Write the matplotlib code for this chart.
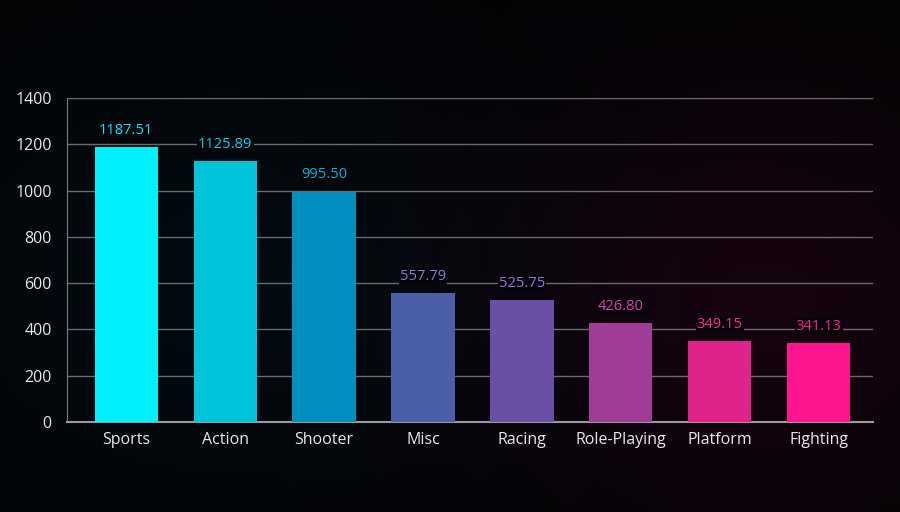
import matplotlib
matplotlib.use("Agg")
import matplotlib.pyplot as plt
import numpy as np

categories = ["Sports", "Action", "Shooter", "Misc", "Racing", "Role-Playing", "Platform", "Fighting"]
values = [1187.51, 1125.89, 995.50, 557.79, 525.75, 426.80, 349.15, 341.13]
bar_colors = ["#00f0fc", "#00c4da", "#008fbe", "#4a5fa8", "#6b4ea6", "#a03c96", "#e0238a", "#ff1590"]
label_colors = ["#00e8f8", "#00d0e6", "#00b4d8", "#7f7fe0", "#9a70e0", "#e040b0", "#ff2a98", "#ff2290"]
yticks = [0, 200, 400, 600, 800, 1000, 1200, 1400]

plt.rcParams['font.family'] = ['Open Sans', 'DejaVu Sans']

fig = plt.figure(figsize=(9, 5.12), dpi=100, facecolor="#020204")

# background gradient
bg = fig.add_axes([0, 0, 1, 1], zorder=0)
bg.set_axis_off()
h, w = 256, 450
yy, xx = np.mgrid[0:h, 0:w]
xx = xx / (w - 1)
yy = yy / (h - 1)
img = np.zeros((h, w, 3))
base = np.array([0.01, 0.012, 0.018])
blue = np.array([0.0, 0.03, 0.045])
mag = np.array([0.075, 0.0, 0.04])
g_blue = np.exp(-(((xx - 0.25) / 0.35) ** 2 + ((yy - 0.55) / 0.45) ** 2))
g_mag = np.exp(-(((xx - 0.85) / 0.3) ** 2 + ((yy - 0.6) / 0.45) ** 2))
for c in range(3):
    img[:, :, c] = base[c] + blue[c] * g_blue + mag[c] * g_mag
bg.imshow(np.clip(img, 0, 1), aspect="auto", extent=[0, 1, 0, 1], origin="upper")
bg.set_xlim(0, 1)
bg.set_ylim(0, 1)

ax = fig.add_axes([0.0744, 0.1758, 0.8956, 0.6328], zorder=1)
ax.patch.set_alpha(0)
x = np.arange(len(categories))
bars = ax.bar(x, values, width=0.64, color=bar_colors, zorder=3)
for xi, v, lc in zip(x, values, label_colors):
    ax.text(xi, v + 40, f"{v:.2f}", ha="center", va="bottom", color=lc, fontsize=10.5, zorder=4,
            bbox=dict(facecolor="#06060a", edgecolor="none", pad=0.8))

ax.set_xlim(-0.6, 7.55)
ax.set_ylim(0, 1400)
ax.set_yticks(yticks)
ax.set_xticks(x)
ax.set_xticklabels(categories)
ax.tick_params(axis="both", colors="#e8e8e8", labelsize=11.5, length=0)
ax.tick_params(axis="x", pad=7)
ax.tick_params(axis="y", pad=11)
ax.grid(axis="y", color="#6a6a6a", linewidth=1.0, zorder=1)
for s in ["top", "right"]:
    ax.spines[s].set_visible(False)
ax.spines["left"].set_color("#7a7a7a")
ax.spines["bottom"].set_color("#9a9a9a")
ax.spines["bottom"].set_linewidth(1.5)

fig.savefig("out.png", dpi=100, facecolor=fig.get_facecolor())
